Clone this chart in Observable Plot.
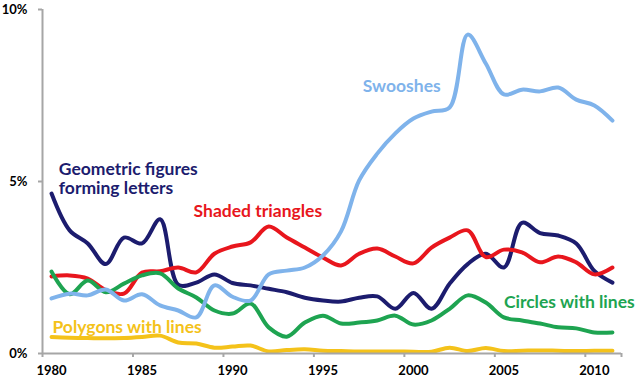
<!DOCTYPE html>
<html><head><meta charset="utf-8">
<script src="https://cdn.jsdelivr.net/npm/d3@7"></script>
<script src="https://cdn.jsdelivr.net/npm/@observablehq/plot@0.6"></script>
<style>
html,body{margin:0;padding:0;background:#fff;}
#chart svg{display:block;}
</style>
</head><body><div id="chart"></div>
<script>
const years = [1980,1981,1982,1983,1984,1985,1986,1987,1988,1989,1990,1991,1992,1993,1994,1995,1996,1997,1998,1999,2000,2001,2002,2003,2004,2005,2006,2007,2008,2009,2010,2011];

const geometric = [4.65,3.58,3.2,2.6,3.37,3.2,3.9,2.0,2.06,2.3,2.05,1.98,1.88,1.78,1.62,1.54,1.51,1.62,1.66,1.3,1.76,1.3,2.03,2.6,2.9,2.5,3.8,3.5,3.43,3.2,2.4,2.06];
const shaded = [2.24,2.27,2.18,1.84,1.74,2.35,2.39,2.5,2.36,2.9,3.11,3.23,3.69,3.37,3.08,2.79,2.56,2.9,3.05,2.82,2.62,3.08,3.37,3.58,2.8,3.02,2.94,2.65,2.82,2.65,2.3,2.5];
const circles = [2.38,1.72,2.12,1.78,2.03,2.27,2.33,1.89,1.63,1.25,1.16,1.45,0.76,0.49,0.9,1.1,0.87,0.9,0.96,1.1,0.84,0.96,1.3,1.69,1.48,1.05,0.96,0.87,0.76,0.73,0.61,0.61];
const polygons = [0.48,0.46,0.45,0.44,0.45,0.48,0.52,0.32,0.29,0.17,0.2,0.23,0.06,0.1,0.12,0.08,0.07,0.06,0.06,0.06,0.05,0.05,0.17,0.07,0.16,0.07,0.08,0.09,0.08,0.07,0.08,0.08];
const swooshes = [1.6,1.74,1.69,1.86,1.54,1.72,1.4,1.25,1.05,1.98,1.65,1.54,2.3,2.41,2.5,2.85,3.55,5.03,5.81,6.4,6.83,7.03,7.15,9.27,8.43,7.53,7.67,7.62,7.73,7.38,7.21,6.77];

const seriesNames = ["Geometric figures\nforming letters","Shaded triangles","Circles with lines","Polygons with lines","Swooshes"];
const seriesValues = [geometric, shaded, circles, polygons, swooshes];
const seriesColors = ["#1c1c6e","#e8161d","#1ea451","#f4c21a","#7fb3eb"];

const xTickLabels = ["1980","1985","1990","1995","2000","2005","2010"];
const yTickValues = [0, 5, 10];
const yTickLabels = ["0%","5%","10%"];

// label anchors in data units (year, percent)
const labelX = [1980.4, 1987.85, 2005.0, 1980.05, 1997.2];
const labelY = [5.09, 4.13, 1.51, 0.76, 7.79];

const rows = [];
seriesNames.forEach((name, i) => {
  years.forEach((yr, j) => rows.push({series: name, year: yr, value: seriesValues[i][j]}));
});
const labels = seriesNames.map((name, i) => ({series: name, x: labelX[i], y: labelY[i], color: seriesColors[i]}));

const xLabelYears = xTickLabels.map(Number);
const boundaries = [years[0] - 0.5, ...xLabelYears.slice(1).map(y => y - 0.5), years[years.length-1] + 0.5];
const axisGray = "#a6a6a6";

const chart = Plot.plot({
  width: 644,
  height: 385,
  marginLeft: 42,
  marginRight: 23,
  marginTop: 9,
  marginBottom: 32,
  style: {fontFamily: "Lato, sans-serif", background: "#fff", color: "#000"},
  x: {domain: [years[0] - 0.5, years[years.length-1] + 0.5]},
  y: {domain: [0, 10]},
  marks: [
    Plot.lineY(rows, {x: "year", y: "value", z: "series", stroke: "series", strokeWidth: 4, curve: "catmull-rom"}),
    Plot.ruleX([years[0] - 0.5], {y1: 0, y2: 10, stroke: axisGray, strokeWidth: 2}),
    Plot.ruleY([0], {x1: years[0] - 0.5, x2: years[years.length-1] + 0.5, stroke: axisGray, strokeWidth: 2}),
    Plot.axisX({ticks: boundaries, tickSize: 4, tickFormat: () => "", stroke: axisGray, strokeWidth: 2}),
    Plot.axisX({ticks: xLabelYears, tickSize: 0, tickPadding: 12, tickFormat: (d, i) => xTickLabels[i], fontSize: 13, fontWeight: "bold", fill: "#000"}),
    Plot.axisY({ticks: yTickValues, tickSize: 4, tickPadding: 11, tickFormat: (d, i) => yTickLabels[i], fontSize: 13, fontWeight: "bold", fill: "#000", stroke: axisGray, strokeWidth: 2}),
    Plot.text(labels, {x: "x", y: "y", text: "series", fill: "color", textAnchor: "start", fontSize: 17.5, fontWeight: "bold", lineHeight: 1.08})
  ],
  color: {domain: seriesNames, range: seriesColors}
});
document.getElementById("chart").appendChild(chart);
</script>
</body></html>
